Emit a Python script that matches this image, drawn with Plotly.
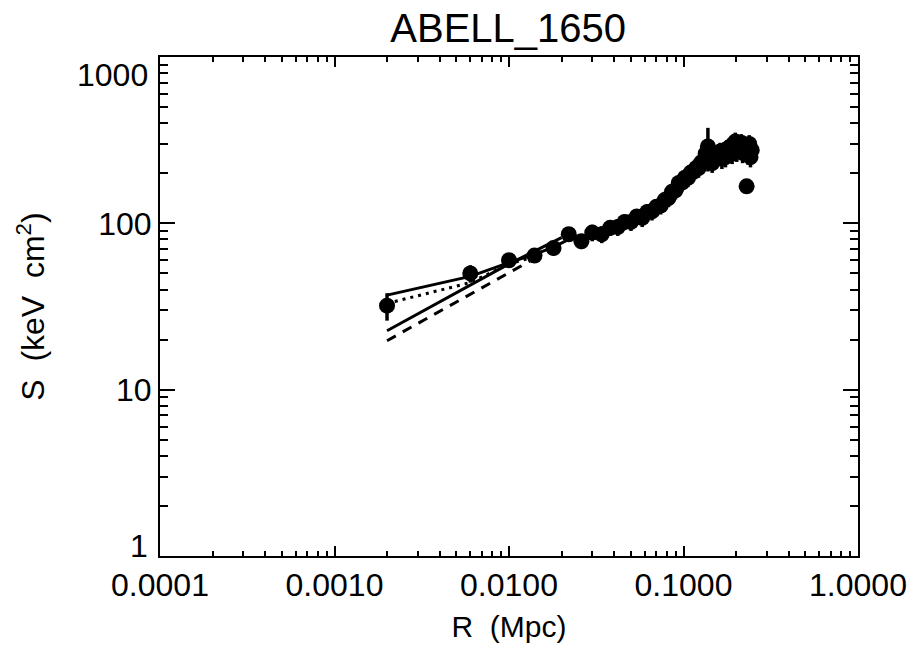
import plotly.graph_objects as go

# ---- data ----
radius_mpc = [0.002, 0.006, 0.010, 0.014, 0.018, 0.022, 0.026, 0.030, 0.034, 0.038,
              0.042, 0.046, 0.050, 0.054, 0.058, 0.062, 0.066, 0.070, 0.074, 0.078,
              0.082, 0.086, 0.090, 0.094, 0.098, 0.102, 0.106, 0.110, 0.114, 0.118,
              0.122, 0.126, 0.130, 0.134, 0.138, 0.142, 0.146, 0.150, 0.154, 0.158,
              0.162, 0.166, 0.170, 0.174, 0.178, 0.182, 0.186, 0.190, 0.194, 0.198,
              0.202, 0.206, 0.210, 0.214, 0.218, 0.222, 0.226, 0.230, 0.234, 0.238,
              0.242, 0.246]
entropy = [32, 50, 60, 64, 71, 86, 78, 88, 86, 94,
           95, 102, 102, 110, 108, 117, 118, 126, 128, 138,
           142, 155, 158, 175, 176, 188, 188, 202, 204, 215,
           215, 232, 235, 262, 290, 262, 230, 240, 255, 262,
           270, 245, 272, 250, 278, 285, 290, 262, 300, 310,
           270, 285, 300, 305, 265, 280, 290, 167, 260, 300,
           250, 275]
entropy_err = [6, 6, 6, 6, 7, 8, 8, 10, 10, 10,
               11, 11, 12, 12, 13, 13, 14, 14, 15, 16,
               17, 18, 19, 20, 21, 22, 23, 24, 25, 26,
               27, 28, 29, 31, 85, 31, 29, 31, 33, 33,
               35, 33, 35, 33, 36, 37, 38, 35, 39, 41,
               36, 37, 39, 39, 35, 37, 39, 12, 35, 39,
               33, 37]

fit_upper_r = [0.002, 0.006, 0.010, 0.014, 0.018, 0.022]
fit_upper_k = [37, 48, 58, 65, 72, 80]
fit_lower_r = [0.002, 0.010, 0.020]
fit_lower_k = [22.6, 57, 82]
fit_dot_r = [0.002, 0.006, 0.010, 0.014]
fit_dot_k = [33, 44, 57, 63]
fit_dash_r = [0.002, 0.010, 0.015]
fit_dash_k = [19.7, 50.7, 64]

x_tickvals = [0.0001, 0.001, 0.01, 0.1, 1.0]
x_ticktext = ["0.0001", "0.0010", "0.0100", "0.1000", "1.0000"]
y_tickvals = [10, 100]
y_ticktext = ["10", "100"]
# end labels of the y axis are drawn nudged inside the frame, as in the reference
y_end_labels = ["1", "1000"]
y_end_pos = [0.02, 0.964]

FONT = "Liberation Sans, Arial, sans-serif"

fig = go.Figure()
fig.add_trace(go.Scatter(x=fit_upper_r, y=fit_upper_k, mode="lines",
                         line=dict(color="black", width=3), showlegend=False))
fig.add_trace(go.Scatter(x=fit_lower_r, y=fit_lower_k, mode="lines",
                         line=dict(color="black", width=3), showlegend=False))
fig.add_trace(go.Scatter(x=fit_dot_r, y=fit_dot_k, mode="lines",
                         line=dict(color="black", width=3, dash="3px,5px"), showlegend=False))
fig.add_trace(go.Scatter(x=fit_dash_r, y=fit_dash_k, mode="lines",
                         line=dict(color="black", width=3, dash="10px,8px"), showlegend=False))
fig.add_trace(go.Scatter(x=radius_mpc, y=entropy, mode="markers",
                         marker=dict(color="black", size=16, symbol="circle"),
                         error_y=dict(type="data", array=entropy_err, color="black",
                                      thickness=3.5, width=0),
                         showlegend=False))

axis_common = dict(type="log", showline=True, linecolor="black", linewidth=2,
                   mirror="ticks", ticks="inside", tickcolor="black", tickwidth=2,
                   showgrid=False, zeroline=False,
                   tickfont=dict(family=FONT, size=32, color="black"))

for txt, pos in zip(y_end_labels, y_end_pos):
    fig.add_annotation(text=txt, xref="paper", yref="paper", x=0, y=pos,
                       xanchor="right", yanchor="middle", xshift=-10, showarrow=False,
                       font=dict(family=FONT, size=32, color="black"))

fig.update_layout(
    width=919, height=650,
    margin=dict(l=160, r=57, t=57, b=94),
    paper_bgcolor="white", plot_bgcolor="white",
    title=dict(text="ABELL_1650", x=0.553, xanchor="center",
               y=0.957, yref="container", yanchor="middle",
               font=dict(family=FONT, size=40, color="black")),
    xaxis=dict(axis_common, range=[-4, 0], tickvals=x_tickvals, ticktext=x_ticktext,
               ticklen=10,
               minor=dict(ticks="inside", ticklen=5, tickcolor="black", tickwidth=2,
                          dtick="D1", showgrid=False),
               title=dict(text="R  (Mpc)", standoff=14,
                          font=dict(family=FONT, size=30, color="black"))),
    yaxis=dict(axis_common, range=[0, 3], tickvals=y_tickvals, ticktext=y_ticktext,
               ticklen=15,
               minor=dict(ticks="inside", ticklen=8, tickcolor="black", tickwidth=2,
                          dtick="D1", showgrid=False),
               title=dict(text="S  (keV  cm<sup>2</sup>)", standoff=44,
                          font=dict(family=FONT, size=32, color="black"))),
)

fig.write_html("out.html")
